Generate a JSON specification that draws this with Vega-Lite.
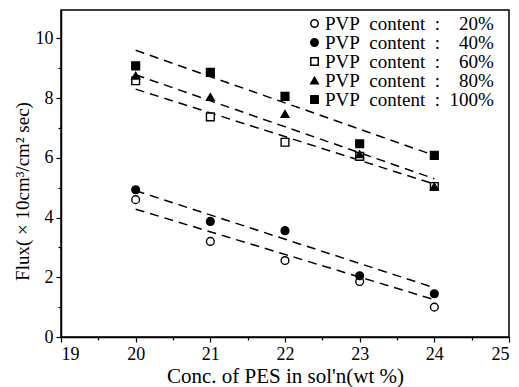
{
  "$schema": "https://vega.github.io/schema/vega-lite/v6.json",
  "width": 448,
  "height": 327,
  "autosize": {"type": "none"},
  "padding": {"left": 61, "top": 10, "right": 10, "bottom": 50},
  "config": {
    "font": "Liberation Serif",
    "view": {"stroke": "black", "strokeWidth": 1.5},
    "axis": {
      "domainColor": "black",
      "domainWidth": 1.5,
      "tickColor": "black",
      "tickWidth": 1.2,
      "grid": false,
      "labelFont": "Liberation Serif",
      "titleFont": "Liberation Serif",
      "labelColor": "black",
      "labelFontSize": 18,
      "titleFontWeight": "normal",
      "titleColor": "black",
      "titleFontSize": 18
    },
    "legend": {"labelFont": "Liberation Serif", "rowPadding": -3.5, "clipHeight": 17, "labelBaseline": "middle"}
  },
  "datasets": {
    "points": [
      {"pes": 20, "flux": 4.6, "series": "PVP\u2002content\u2002:\u2002\u200720%"},
      {"pes": 21, "flux": 3.2, "series": "PVP\u2002content\u2002:\u2002\u200720%"},
      {"pes": 22, "flux": 2.56, "series": "PVP\u2002content\u2002:\u2002\u200720%"},
      {"pes": 23, "flux": 1.86, "series": "PVP\u2002content\u2002:\u2002\u200720%"},
      {"pes": 24, "flux": 1.0, "series": "PVP\u2002content\u2002:\u2002\u200720%"},
      {"pes": 20, "flux": 4.93, "series": "PVP\u2002content\u2002:\u2002\u200740%"},
      {"pes": 21, "flux": 3.87, "series": "PVP\u2002content\u2002:\u2002\u200740%"},
      {"pes": 22, "flux": 3.56, "series": "PVP\u2002content\u2002:\u2002\u200740%"},
      {"pes": 23, "flux": 2.05, "series": "PVP\u2002content\u2002:\u2002\u200740%"},
      {"pes": 24, "flux": 1.45, "series": "PVP\u2002content\u2002:\u2002\u200740%"},
      {"pes": 20, "flux": 8.58, "series": "PVP\u2002content\u2002:\u2002\u200760%"},
      {"pes": 21, "flux": 7.37, "series": "PVP\u2002content\u2002:\u2002\u200760%"},
      {"pes": 22, "flux": 6.52, "series": "PVP\u2002content\u2002:\u2002\u200760%"},
      {"pes": 23, "flux": 6.05, "series": "PVP\u2002content\u2002:\u2002\u200760%"},
      {"pes": 24, "flux": 5.04, "series": "PVP\u2002content\u2002:\u2002\u200760%"},
      {"pes": 20, "flux": 8.75, "series": "PVP\u2002content\u2002:\u2002\u200780%"},
      {"pes": 21, "flux": 8.04, "series": "PVP\u2002content\u2002:\u2002\u200780%"},
      {"pes": 22, "flux": 7.47, "series": "PVP\u2002content\u2002:\u2002\u200780%"},
      {"pes": 23, "flux": 6.12, "series": "PVP\u2002content\u2002:\u2002\u200780%"},
      {"pes": 24, "flux": 5.04, "series": "PVP\u2002content\u2002:\u2002\u200780%"},
      {"pes": 20, "flux": 9.08, "series": "PVP\u2002content\u2002:\u2002100%"},
      {"pes": 21, "flux": 8.86, "series": "PVP\u2002content\u2002:\u2002100%"},
      {"pes": 22, "flux": 8.06, "series": "PVP\u2002content\u2002:\u2002100%"},
      {"pes": 23, "flux": 6.47, "series": "PVP\u2002content\u2002:\u2002100%"},
      {"pes": 24, "flux": 6.08, "series": "PVP\u2002content\u2002:\u2002100%"}
    ],
    "fits": [
      {"pes0": 20, "flux0": 4.28, "pes1": 24, "flux1": 1.25},
      {"pes0": 20, "flux0": 4.9, "pes1": 24, "flux1": 1.65},
      {"pes0": 20, "flux0": 8.3, "pes1": 24, "flux1": 5.12},
      {"pes0": 20, "flux0": 8.78, "pes1": 24, "flux1": 5.3},
      {"pes0": 20, "flux0": 9.6, "pes1": 24, "flux1": 6.08}
    ]
  },
  "layer": [
    {
      "data": {"name": "fits"},
      "mark": {"type": "rule", "color": "black", "strokeWidth": 1.5, "strokeDash": [9, 6]},
      "encoding": {
        "x": {
          "field": "pes0", "type": "quantitative",
          "scale": {"domain": [19, 25], "nice": false},
          "axis": {"orient": "bottom", "values": [19.5, 20.5, 21.5, 22.5, 23.5, 24.5], "labels": false, "domain": false, "tickSize": 3, "title": null}
        },
        "y": {
          "field": "flux0", "type": "quantitative",
          "scale": {"domain": [0, 10.95], "nice": false},
          "axis": {"orient": "left", "values": [1, 3, 5, 7, 9], "labels": false, "domain": false, "tickSize": 3, "title": null}
        },
        "x2": {"field": "pes1"},
        "y2": {"field": "flux1"}
      }
    },
    {
      "data": {"name": "points"},
      "mark": {"type": "point", "filled": true, "stroke": "black", "strokeWidth": 1.4, "opacity": 1, "size": 60},
      "encoding": {
        "x": {
          "field": "pes", "type": "quantitative",
          "scale": {"domain": [19, 25], "nice": false},
          "axis": {
            "orient": "bottom", "values": [19, 20, 21, 22, 23, 24, 25], "tickSize": 5, "labelPadding": 3,
            "title": "Conc. of PES in sol'n(wt %)", "titlePadding": 2, "titleFontSize": 21
          }
        },
        "y": {
          "field": "flux", "type": "quantitative",
          "scale": {"domain": [0, 10.95], "nice": false},
          "axis": {
            "orient": "left", "values": [0, 2, 4, 6, 8, 10], "tickSize": 5, "labelPadding": 3,
            "title": "Flux( × 10cm³/cm² sec)", "titleFontSize": 19,
            "titleX": -39, "titleY": 181, "titleBaseline": "middle", "titleAlign": "center", "titleAngle": -90
          }
        },
        "shape": {
          "field": "series", "type": "nominal",
          "scale": {
            "domain": ["PVP\u2002content\u2002:\u2002\u200720%", "PVP\u2002content\u2002:\u2002\u200740%", "PVP\u2002content\u2002:\u2002\u200760%", "PVP\u2002content\u2002:\u2002\u200780%", "PVP\u2002content\u2002:\u2002100%"],
            "range": ["circle", "circle", "square", "triangle-up", "square"]
          },
          "legend": {
            "orient": "none", "legendX": 244, "legendY": 5, "title": null,
            "labelFontSize": 19, "labelColor": "black", "labelLimit": 300,
            "symbolSize": 55,
            "rowPadding": -3.5, "clipHeight": 17, "labelOffset": 1, "padding": 0,
            "encode": {"symbols": {"update": {"stroke": {"value": "black"}, "strokeWidth": {"value": 1.4}}}}
          }
        },
        "fill": {
          "field": "series", "type": "nominal",
          "scale": {
            "domain": ["PVP\u2002content\u2002:\u2002\u200720%", "PVP\u2002content\u2002:\u2002\u200740%", "PVP\u2002content\u2002:\u2002\u200760%", "PVP\u2002content\u2002:\u2002\u200780%", "PVP\u2002content\u2002:\u2002100%"],
            "range": ["white", "black", "white", "black", "black"]
          },
          "legend": {
            "orient": "none", "legendX": 244, "legendY": 5, "title": null,
            "labelFontSize": 19, "labelColor": "black", "labelLimit": 300,
            "symbolSize": 55,
            "rowPadding": -3.5, "clipHeight": 17, "labelOffset": 1, "padding": 0,
            "encode": {"symbols": {"update": {"stroke": {"value": "black"}, "strokeWidth": {"value": 1.4}}}}
          }
        }
      }
    }
  ],
  "resolve": {"axis": {"x": "independent", "y": "independent"}}
}
